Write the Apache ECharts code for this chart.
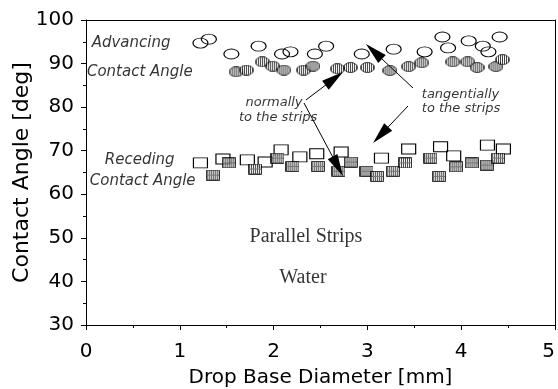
<!DOCTYPE html>
<html>
<head>
<meta charset="utf-8">
<script src="https://cdn.jsdelivr.net/npm/echarts@6/dist/echarts.min.js"></script>
<style>
html, body { margin: 0; padding: 0; background: #fff; }
#chart { width: 558px; height: 389px; }
</style>
</head>
<body>
<div id="chart"></div>
<script>
// advancing angle, tangentially to the strips (open circles)
const advTangX = [1.22, 1.31, 1.55, 1.84, 2.09, 2.18, 2.44, 2.56, 2.94, 3.28, 3.61, 3.80, 3.86, 4.08, 4.23, 4.29, 4.41];
const advTangY = [94.7, 95.6, 92.2, 94.0, 92.2, 92.7, 92.2, 94.0, 92.2, 93.3, 92.7, 96.1, 93.6, 95.2, 94.0, 92.7, 96.1];
// advancing angle, normally to the strips (hatched ellipses)
const advNormX = [1.60, 1.71, 1.88, 1.99, 2.11, 2.32, 2.42, 2.68, 2.82, 3.00, 3.24, 3.44, 3.58, 3.91, 4.07, 4.17, 4.37, 4.44];
const advNormY = [88.1, 88.5, 90.4, 89.4, 88.5, 88.5, 89.4, 88.8, 89.1, 89.1, 88.4, 89.3, 90.2, 90.4, 90.4, 89.1, 89.3, 90.9];
// receding angle, tangentially (open squares)
const recTangX = [1.22, 1.46, 1.72, 1.91, 2.08, 2.28, 2.46, 2.72, 3.15, 3.44, 3.78, 3.92, 4.28, 4.45];
const recTangY = [67.2, 68.1, 67.9, 67.4, 70.2, 68.6, 69.3, 69.7, 68.3, 70.4, 70.9, 68.8, 71.3, 70.4];
// receding angle, normally (hatched squares)
const recNormX = [1.35, 1.52, 1.80, 2.04, 2.20, 2.47, 2.69, 2.82, 2.99, 3.10, 3.27, 3.40, 3.67, 3.76, 3.94, 4.11, 4.27, 4.39];
const recNormY = [64.4, 67.2, 65.8, 68.3, 66.4, 66.4, 65.3, 67.4, 65.3, 64.1, 65.3, 67.2, 68.3, 64.1, 66.3, 67.2, 66.7, 68.3];

// annotation texts, anchored in data units
const notes = [
    ['Advancing', 0.06, 94.7],
    ['Contact Angle', 0.01, 88.1],
    ['Receding', 0.20, 67.9],
    ['Contact Angle', 0.04, 63.05],
    ['normally', 1.70, 80.95],
    ['to the strips', 1.63, 77.5],
    ['tangentially', 3.58, 82.8],
    ['to the strips', 3.58, 79.6]
];
const captions = [
    ['Parallel Strips', 2.345, 50.2],
    ['Water', 2.313, 40.8]
];
// arrows: from -> to (data units)
const arrows = [
    [[2.345, 81.64], [2.646, 86.55]],
    [[2.324, 80.95], [2.684, 66.4]],
    [[3.486, 84.39], [3.070, 92.77]],
    [[3.433, 80.26], [3.141, 73.6]]
];

function pairs(xs, ys) {
    let arr = [];
    for (let i = 0; i < xs.length; i++) {
        arr.push([xs[i], ys[i]]);
    }
    return arr;
}

// hatched marker images (vertical stripes, black outline)
function hatchedSymbol(w, h, shape) {
    let c = document.createElement('canvas');
    c.width = w;
    c.height = h;
    let ctx = c.getContext('2d');
    ctx.beginPath();
    if (shape === 'ellipse') {
        ctx.ellipse(w / 2, h / 2, w / 2 - 0.5, h / 2 - 0.5, 0, 0, Math.PI * 2);
    } else {
        ctx.rect(0.5, 0.5, w - 1, h - 1);
    }
    ctx.save();
    ctx.clip();
    ctx.fillStyle = '#fff';
    ctx.fillRect(0, 0, w, h);
    ctx.fillStyle = '#111';
    for (let x = 1; x < w; x += 2) {
        ctx.fillRect(x, 0, 1, h);
    }
    if (shape === 'rect') {
        ctx.fillStyle = '#555';
        ctx.fillRect(0, Math.floor(h / 2), w, 1);
    }
    ctx.restore();
    ctx.strokeStyle = '#000';
    ctx.lineWidth = 1;
    ctx.stroke();
    return 'image://' + c.toDataURL();
}

const axisFont = { fontFamily: 'DejaVu Sans', color: '#000' };

let noteData = [];
notes.forEach(n => {
    noteData.push({
        name: n[0], value: [n[1], n[2]],
        label: { align: 'left', fontStyle: 'italic', fontSize: n[1] > 1 ? 13 : 15 }
    });
});
captions.forEach(c => {
    noteData.push({
        name: c[0], value: [c[1], c[2]],
        label: { align: 'center', fontStyle: 'normal', fontSize: 20, fontFamily: 'Liberation Serif' }
    });
});

let option = {
    animation: false,
    backgroundColor: '#fff',
    grid: { left: 86, right: 3, top: 20, bottom: 64, outerBoundsMode: 'none', containLabel: false },
    xAxis: [{
        type: 'value', min: 0, max: 5, interval: 1,
        name: 'Drop Base Diameter [mm]', nameLocation: 'middle', nameGap: 43,
        nameTextStyle: Object.assign({ fontSize: 20 }, axisFont),
        axisLine: { lineStyle: { color: '#000', width: 1 } },
        axisTick: { length: 5, lineStyle: { color: '#000' } },
        minorTick: { show: true, splitNumber: 2, length: 3, lineStyle: { color: '#000' } },
        axisLabel: Object.assign({ fontSize: 20, margin: 17, alignMaxLabel: 'right' }, axisFont),
        splitLine: { show: false }
    }, {
        type: 'value', min: 0, max: 5, position: 'top',
        axisLine: { show: true, onZero: false, lineStyle: { color: '#000', width: 1 } },
        axisTick: { show: false }, axisLabel: { show: false }, splitLine: { show: false }
    }],
    yAxis: [{
        type: 'value', min: 30, max: 100, interval: 10,
        name: 'Contact Angle [deg]', nameLocation: 'middle', nameGap: 53, nameMoveOverlap: false,
        nameTextStyle: Object.assign({ fontSize: 22 }, axisFont),
        axisLine: { show: true, lineStyle: { color: '#000', width: 1 } },
        axisTick: { show: true, length: 5, lineStyle: { color: '#000' } },
        minorTick: { show: true, splitNumber: 2, length: 3, lineStyle: { color: '#000' } },
        axisLabel: Object.assign({ fontSize: 20, margin: 12 }, axisFont),
        splitLine: { show: false }
    }, {
        type: 'value', min: 30, max: 100, position: 'right',
        axisLine: { show: true, onZero: false, lineStyle: { color: '#000', width: 1 } },
        axisTick: { show: false }, axisLabel: { show: false }, splitLine: { show: false }
    }],
    series: [{
        name: 'Advancing, tangential', type: 'scatter', z: 2,
        symbol: 'circle', symbolSize: [15, 10],
        itemStyle: { color: 'rgba(0,0,0,0)', borderColor: '#000', borderWidth: 1, opacity: 1 },
        data: pairs(advTangX, advTangY)
    }, {
        name: 'Advancing, normal', type: 'scatter', z: 3,
        symbol: hatchedSymbol(15, 11, 'ellipse'), symbolSize: [15, 11],
        data: pairs(advNormX, advNormY)
    }, {
        name: 'Receding, tangential', type: 'scatter', z: 2,
        symbol: 'rect', symbolSize: [14, 10],
        itemStyle: { color: 'rgba(0,0,0,0)', borderColor: '#000', borderWidth: 1, opacity: 1 },
        data: pairs(recTangX, recTangY)
    }, {
        name: 'Receding, normal', type: 'scatter', z: 3,
        symbol: hatchedSymbol(14, 11, 'rect'), symbolSize: [14, 11],
        data: pairs(recNormX, recNormY)
    }, {
        name: 'notes', type: 'scatter', z: 5,
        symbolSize: 0,
        silent: true,
        label: {
            show: true, position: 'inside', formatter: '{b}',
            color: '#000', fontFamily: 'DejaVu Sans', verticalAlign: 'middle'
        },
        data: noteData,
        markLine: {
            silent: true, animation: false,
            symbol: ['none', 'triangle'], symbolSize: [11, 22],
            label: { show: false },
            lineStyle: { color: '#000', width: 1, type: 'solid' },
            itemStyle: { color: '#000' },
            data: arrows.map(a => [{ coord: a[0] }, { coord: a[1] }])
        }
    }]
};

let myChart = echarts.init(document.getElementById('chart'));
myChart.setOption(option);
</script>
</body>
</html>
